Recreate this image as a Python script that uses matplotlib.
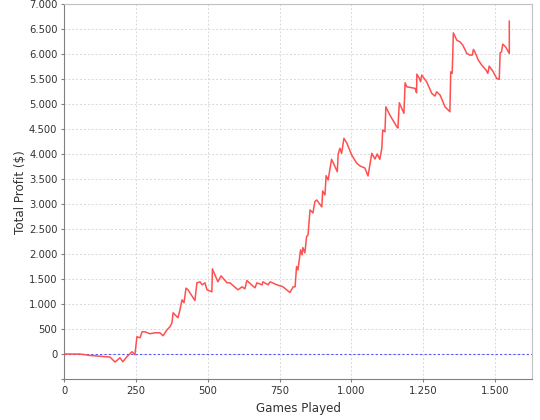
import matplotlib
matplotlib.use("Agg")
import matplotlib.pyplot as plt
from matplotlib.ticker import FuncFormatter, MultipleLocator

# cumulative profit after n games
games = [0, 55, 90, 159, 177, 194, 204, 218, 236, 246, 253, 264, 271, 281, 298,
         316, 333, 344, 358, 368, 375, 379, 396, 403, 410, 417, 424, 431, 455,
         462, 473, 480, 490, 497, 514, 516, 535, 546, 567, 577, 605, 619, 629,
         636, 664, 671, 689, 692, 710, 717, 741, 762, 786, 797, 804, 809, 814,
         823, 828, 831, 838, 844, 849, 856, 866, 873, 879, 887, 897, 900, 908,
         912, 919, 931, 943, 951, 954, 960, 966, 974, 984, 1001, 1018, 1030,
         1047, 1058, 1071, 1082, 1090, 1099, 1106, 1109, 1117, 1120, 1134, 1158,
         1162, 1167, 1183, 1187, 1193, 1222, 1227, 1228, 1237, 1241, 1245, 1262,
         1280, 1291, 1297, 1309, 1326, 1343, 1346, 1351, 1353, 1355, 1367, 1378,
         1388, 1402, 1413, 1421, 1425, 1430, 1442, 1454, 1469, 1475, 1480, 1494,
         1506, 1515, 1518, 1523, 1527, 1537, 1550, 1550]
profit = [0, 0, -28, -60, -160, -74, -154, -54, 46, -14, 346, 326, 446, 446, 406,
          426, 426, 366, 486, 546, 626, 826, 726, 886, 1086, 1026, 1320, 1286,
          1072, 1426, 1446, 1386, 1426, 1286, 1246, 1706, 1446, 1566, 1426, 1426,
          1286, 1346, 1306, 1472, 1326, 1426, 1386, 1446, 1386, 1446, 1386, 1346,
          1232, 1346, 1346, 1752, 1686, 2086, 1986, 2132, 2026, 2352, 2386, 2886,
          2826, 3052, 3086, 3026, 2946, 3266, 3186, 3572, 3486, 3900, 3752, 3652,
          4006, 4120, 4020, 4320, 4226, 3986, 3826, 3766, 3726, 3566, 4020, 3906,
          4006, 3900, 4120, 4486, 4452, 4952, 4786, 4552, 4526, 5032, 4820, 5432,
          5352, 5320, 5232, 5606, 5520, 5452, 5586, 5452, 5220, 5166, 5252, 5186,
          4952, 4852, 5652, 5620, 5986, 6432, 6286, 6252, 6186, 6020, 5986, 5986,
          6100, 6052, 5886, 5786, 5686, 5620, 5766, 5652, 5520, 5500, 6032, 6052,
          6206, 6152, 6020, 6666]


def dotted(v, pos):
    if v < 0:
        return ""
    return f"{int(v):,}".replace(",", ".")


fig = plt.figure(figsize=(5.4, 4.2), dpi=100)
ax = fig.add_axes([0.119, 0.0976, 0.8667, 0.8917])

ax.plot(games, profit, color="#ff5050", linewidth=1.1, zorder=3)
ax.axhline(0, color="#5555ff", linewidth=0.8, linestyle=(0, (2, 2)), zorder=2)

ax.set_xlim(0, 1630)
ax.set_ylim(-500, 7000)
ax.xaxis.set_major_locator(MultipleLocator(250))
ax.yaxis.set_major_locator(MultipleLocator(500))
ax.xaxis.set_major_formatter(FuncFormatter(dotted))
ax.yaxis.set_major_formatter(FuncFormatter(dotted))

ax.grid(True, color="#d8d8d8", linewidth=0.7, linestyle=(0, (2, 2)))
ax.set_axisbelow(True)

for side in ("left", "bottom"):
    ax.spines[side].set_color("#808080")
for side in ("top", "right"):
    ax.spines[side].set_color("#c0c0c0")

ax.tick_params(direction="out", length=2, width=0.8, color="#808080",
               labelsize=7.2, labelcolor="#333333", pad=3)
ax.set_xlabel("Games Played", fontsize=8.6, color="#333333", labelpad=4)
ax.set_ylabel("Total Profit ($)", fontsize=8.6, color="#333333", labelpad=1)

plt.savefig("out.png", dpi=100, facecolor="white")
